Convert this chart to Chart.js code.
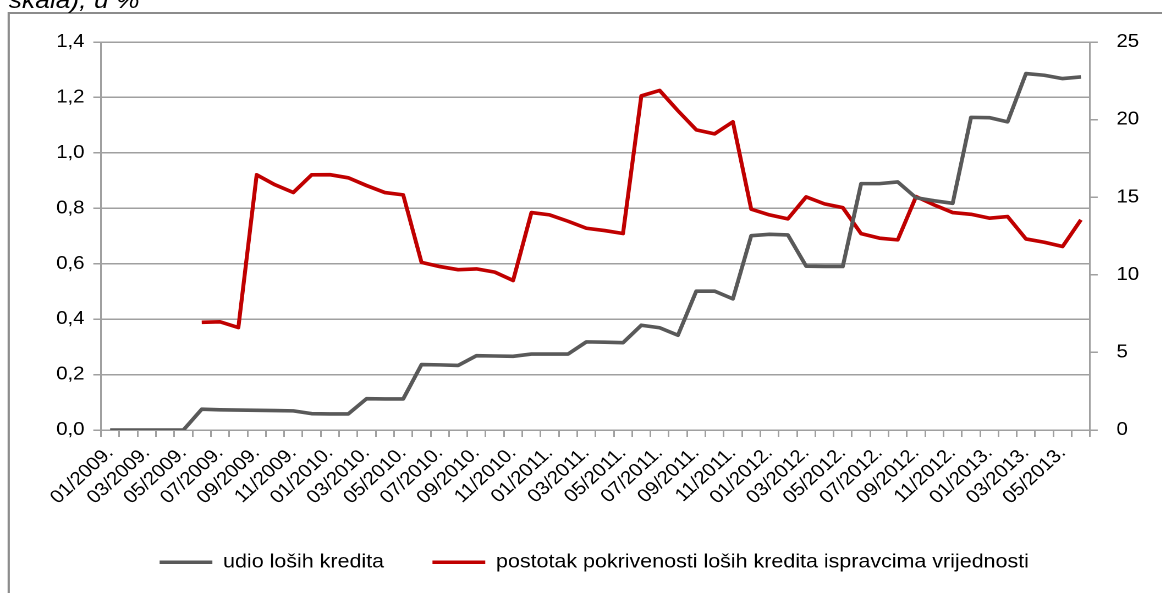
<!DOCTYPE html>
<html>
<head>
<meta charset="utf-8">
<script src="https://cdn.jsdelivr.net/npm/chart.js@4"></script>
<style>
  html, body { margin: 0; padding: 0; background: #fff; overflow: hidden; }
  #stage {
    position: absolute; left: 0; top: 0;
    width: 1056.36px; height: 593px;
    transform: scaleX(1.1); transform-origin: 0 0;
  }
  #frame {
    position: absolute; left: 7.3px; top: 12px;
    width: 2000px; height: 2000px;
    border: 2px solid #8c8c8c;
  }
  #caption {
    position: absolute; left: 8px; top: -12px;
    font: italic 24px Arial, "Liberation Sans", sans-serif;
    line-height: 23px; color: #000; white-space: nowrap;
  }
  #wrap { position: absolute; left: 0; top: 0; width: 1056.36px; height: 593px; }
</style>
</head>
<body>
<div id="stage">
  <div id="frame"></div>
  <div id="caption">skala), u %</div>
  <div id="wrap"><canvas id="chart"></canvas></div>
</div>
<script>
// Monthly categories 01/2009. - 06/2013.
const months = [];
for (let y = 2009; y <= 2013; y++) {
  for (let m = 1; m <= 12; m++) {
    if (y === 2013 && m > 6) break;
    months.push(String(m).padStart(2, '0') + '/' + y + '.');
  }
}

// udio loših kredita (left axis)
const udioLosihKredita = [
  0, 0, 0, 0, 0, 0.075, 0.073, 0.072, 0.071, 0.070, 0.069, 0.059,
  0.058, 0.058, 0.113, 0.112, 0.112, 0.236, 0.235, 0.233, 0.268, 0.267, 0.266, 0.274,
  0.274, 0.274, 0.318, 0.317, 0.315, 0.378, 0.369, 0.342, 0.501, 0.501, 0.473, 0.701,
  0.706, 0.704, 0.591, 0.590, 0.590, 0.889, 0.889, 0.895, 0.838, 0.827, 0.818, 1.128,
  1.127, 1.112, 1.286, 1.280, 1.268, 1.274
];

// postotak pokrivenosti loših kredita ispravcima vrijednosti (right axis)
const pokrivenost = [
  null, null, null, null, null, 6.94, 6.97, 6.60, 16.44, 15.80, 15.30, 16.44,
  16.45, 16.25, 15.75, 15.30, 15.15, 10.80, 10.53, 10.33, 10.38, 10.17, 9.63, 14.01,
  13.86, 13.45, 13.00, 12.85, 12.66, 21.53, 21.88, 20.57, 19.34, 19.08, 19.86, 14.23,
  13.86, 13.60, 15.02, 14.57, 14.33, 12.65, 12.36, 12.25, 15.04, 14.50, 14.01, 13.90,
  13.65, 13.75, 12.31, 12.10, 11.82, 13.54
];

const seriesNames = ['udio loših kredita', 'postotak pokrivenosti loših kredita ispravcima vrijednosti'];

const FONT = 'Arial, "Liberation Sans", sans-serif';
const gridGrey = '#a0a0a0';

const ctx = document.getElementById('chart');
new Chart(ctx, {
  type: 'line',
  data: {
    labels: months,
    datasets: [
      {
        label: seriesNames[0],
        data: udioLosihKredita,
        yAxisID: 'y',
        borderColor: '#595959',
        backgroundColor: '#595959',
        borderWidth: 3.6,
        pointRadius: 0,
        tension: 0,
        borderJoinStyle: 'round'
      },
      {
        label: seriesNames[1],
        data: pokrivenost,
        yAxisID: 'y1',
        borderColor: '#c00000',
        backgroundColor: '#c00000',
        borderWidth: 3.6,
        pointRadius: 0,
        tension: 0,
        borderJoinStyle: 'round'
      }
    ]
  },
  options: {
    responsive: true,
    maintainAspectRatio: false,
    animation: false,
    devicePixelRatio: 2,
    // left padding nudges the centred legend to the right; y axis width compensates
    layout: { padding: { top: 42, left: 24, right: 0, bottom: 11 } },
    plugins: {
      legend: {
        position: 'bottom',
        labels: {
          usePointStyle: true,
          pointStyle: 'line',
          pointStyleWidth: 48,
          padding: 44,
          color: '#000',
          font: { family: FONT, size: 19.5 }
        }
      },
      tooltip: { enabled: false }
    },
    scales: {
      x: {
        offset: true,
        grid: { offset: true, drawOnChartArea: false, drawTicks: true, tickLength: 7, color: gridGrey, lineWidth: 1.5 },
        border: { display: true, color: gridGrey, width: 1.5 },
        ticks: {
          autoSkip: false,
          minRotation: 45,
          maxRotation: 45,
          padding: 5,
          color: '#000',
          font: { family: FONT, size: 18.5 },
          callback: (v, i) => (i % 2 === 0 ? months[i] : '')
        },
        // legend: 19.5 + 44 + 10 = 73.5 -> x axis box 430..508.5
        afterFit: scale => { scale.height = 78.5; }
      },
      y: {
        position: 'left',
        min: 0,
        max: 1.4,
        grid: { color: gridGrey, lineWidth: 1.5, drawTicks: true, tickLength: 7 },
        border: { display: true, color: gridGrey, width: 1.5 },
        ticks: {
          stepSize: 0.2,
          padding: 8,
          color: '#000',
          font: { family: FONT, size: 18.5 },
          callback: v => v.toFixed(1).replace('.', ',')
        },
        afterFit: scale => { scale.width = 67.8; }
      },
      y1: {
        position: 'right',
        min: 0,
        max: 25,
        grid: { drawOnChartArea: false, drawTicks: true, tickLength: 7, color: gridGrey, lineWidth: 1.5 },
        border: { display: true, color: gridGrey, width: 1.5 },
        ticks: {
          stepSize: 5,
          padding: 17,
          color: '#000',
          font: { family: FONT, size: 18.5 }
        },
        afterFit: scale => { scale.width = 65.45; }
      }
    }
  }
});
</script>
</body>
</html>
